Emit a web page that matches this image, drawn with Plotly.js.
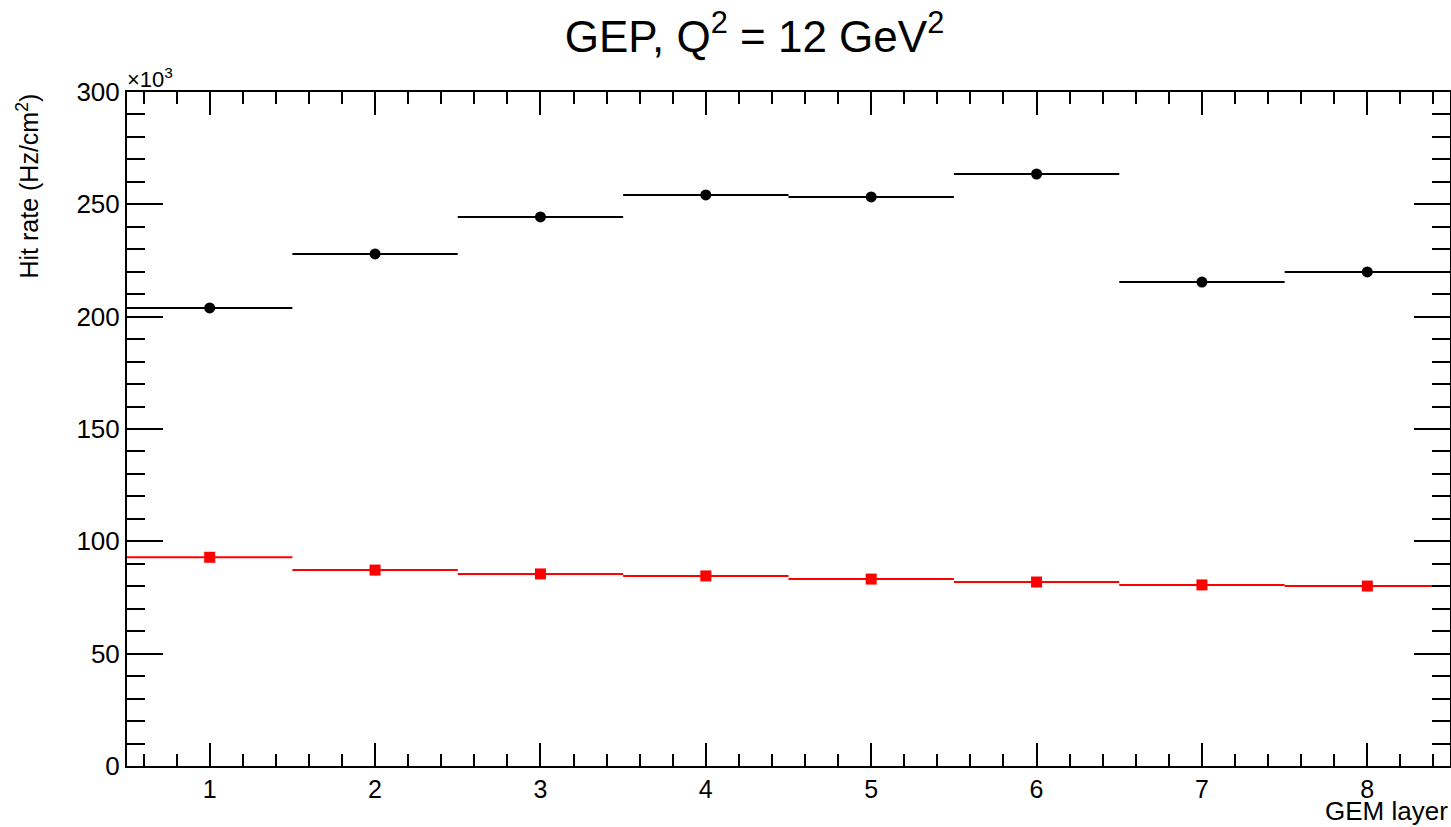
<!DOCTYPE html>
<html>
<head>
<meta charset="utf-8">
<script src="https://cdn.plot.ly/plotly-3.0.1.min.js"></script>
<style>html,body{margin:0;padding:0;background:#fff;}#chart{width:1451px;height:827px;}</style>
</head>
<body>
<div id="chart"></div>
<script>
// GEM layers (bin centres)
const layers = [1, 2, 3, 4, 5, 6, 7, 8];
const binHalfWidth = [0.5, 0.5, 0.5, 0.5, 0.5, 0.5, 0.5, 0.5];
// Hit rates in units of 10^3 Hz/cm^2
const rateBlack = [203.9, 227.9, 244.4, 254.2, 253.3, 263.5, 215.4, 219.9];
const rateRed = [92.9, 87.2, 85.5, 84.6, 83.2, 81.9, 80.6, 80.1];

const FONT = '"Liberation Sans", Arial, Helvetica, sans-serif';

const traces = [
  {
    x: layers, y: rateBlack, type: 'scatter', mode: 'markers',
    marker: {symbol: 'circle', size: 11, color: '#000000'},
    error_x: {type: 'data', array: binHalfWidth, symmetric: true, width: 0, thickness: 2, color: '#000000'},
    showlegend: false, hoverinfo: 'x+y'
  },
  {
    x: layers, y: rateRed, type: 'scatter', mode: 'markers',
    marker: {symbol: 'square', size: 11, color: '#ff0000'},
    error_x: {type: 'data', array: binHalfWidth, symmetric: true, width: 0, thickness: 2, color: '#ff0000'},
    showlegend: false, hoverinfo: 'x+y'
  }
];

const plotW = 1451 - 127 - 1;
const plotH = 827 - 92 - 61;

const layout = {
  width: 1451, height: 827,
  margin: {l: 127, r: 1, t: 92, b: 61, pad: 0},
  paper_bgcolor: '#ffffff', plot_bgcolor: '#ffffff',
  font: {family: FONT, color: '#000000', size: 26},
  title: {
    text: 'GEP, Q<sup>2</sup> = 12 GeV<sup>2</sup>',
    font: {family: FONT, size: 44, color: '#000000'},
    x: 0.52, xanchor: 'center', y: 0.956, yanchor: 'middle'
  },
  xaxis: {
    range: [0.5, 8.5], tickmode: 'linear', tick0: 1, dtick: 1,
    ticks: 'inside', ticklen: 23, tickwidth: 2, tickcolor: '#000',
    minor: {tickmode: 'linear', tick0: 0, dtick: 0.2, ticks: 'inside', ticklen: 12, tickwidth: 2, tickcolor: '#000', showgrid: false},
    showline: true, linecolor: '#000', linewidth: 2, mirror: 'allticks',
    showgrid: false, zeroline: false, ticklabelstandoff: 0,
    tickfont: {family: FONT, size: 25, color: '#000'}
  },
  yaxis: {
    range: [0, 300], tickmode: 'linear', tick0: 0, dtick: 50,
    ticks: 'inside', ticklen: 36, tickwidth: 2, tickcolor: '#000',
    minor: {tickmode: 'linear', tick0: 0, dtick: 10, ticks: 'inside', ticklen: 18, tickwidth: 2, tickcolor: '#000', showgrid: false},
    showline: true, linecolor: '#000', linewidth: 2, mirror: 'allticks',
    showgrid: false, zeroline: false,
    tickfont: {family: FONT, size: 26, color: '#000'}
  },
  annotations: [
    {
      text: 'Hit rate (Hz/cm<sup>2</sup>)', textangle: -90,
      xref: 'paper', yref: 'paper',
      x: -(127 - 27) / plotW, xanchor: 'center',
      y: 1, yanchor: 'top', showarrow: false,
      font: {family: FONT, size: 25, color: '#000'}
    },
    {
      text: 'GEM layer',
      xref: 'paper', yref: 'paper',
      x: 1, xanchor: 'right',
      y: -(811 - 766) / plotH, yanchor: 'middle', showarrow: false,
      font: {family: FONT, size: 26, color: '#000'}
    },
    {
      text: '\u00d710<sup>3</sup>',
      xref: 'paper', yref: 'paper',
      x: -2 / plotW, xanchor: 'left',
      y: 1, yanchor: 'bottom', yshift: -2, showarrow: false,
      font: {family: FONT, size: 22, color: '#000'}
    }
  ]
};

Plotly.newPlot('chart', traces, layout, {displayModeBar: false, staticPlot: true});
</script>
</body>
</html>
